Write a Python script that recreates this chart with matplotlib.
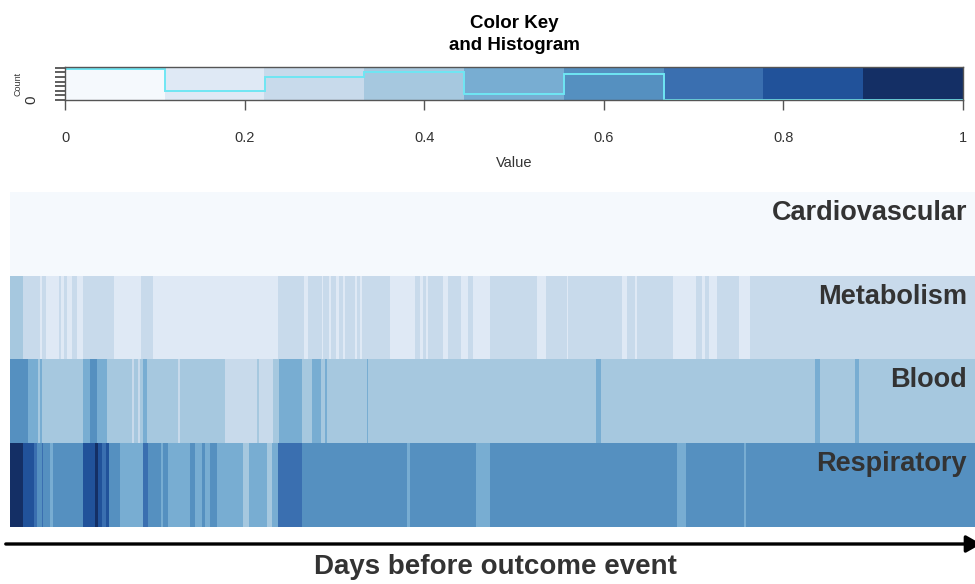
import numpy as np
import matplotlib
matplotlib.use("Agg")
import matplotlib.pyplot as plt
from matplotlib.colors import ListedColormap, Normalize
from matplotlib.patches import FancyArrowPatch

plt.rcParams["font.family"] = ["Liberation Sans", "DejaVu Sans"]

# colour bins of the key (9 classes, 0..1)
bin_colors = ["#F5F9FD", "#DFE9F5", "#C8DAEB", "#A6C8DF", "#78ADD2",
              "#5590C0", "#3A6FB0", "#21529A", "#142F65"]
key_ticks = [0, 0.2, 0.4, 0.6, 0.8, 1]
key_tick_labels = ["0", "0.2", "0.4", "0.6", "0.8", "1"]
hist_counts = [47, 13.5, 35, 42, 9, 39.5, 0.7, 0.7, 0.7]

categories = ["Cardiovascular", "Metabolism", "Blood", "Respiratory"]
n_days = 965

# run-length encoded rows: day where each run starts and its colour bin
cardio_starts = [0]
cardio_bins = [0]

metab_starts = [0, 13, 30, 32, 36, 49, 51, 54, 57, 62, 67, 73, 104, 131, 143, 268,
                294, 298, 312, 313, 319, 321, 326, 329, 333, 335, 345, 347, 350,
                352, 380, 405, 410, 413, 416, 418, 433, 438, 451, 458, 463, 480,
                527, 536, 557, 558, 612, 617, 625, 627, 663, 686, 692, 695, 699,
                707, 729, 740]
metab_bins = [3, 2, 1, 2, 1, 2, 1, 2, 1, 2, 1, 2, 1, 2, 1, 2, 1, 2, 1, 2, 1, 2,
              1, 2, 1, 2, 1, 2, 1, 2, 1, 2, 1, 2, 1, 2, 1, 2, 1, 2, 1, 2, 1, 2,
              1, 2, 1, 2, 1, 2, 1, 2, 1, 2, 1, 2, 1, 2]

blood_starts = [0, 18, 28, 30, 32, 73, 80, 87, 97, 122, 124, 128, 130, 133, 137,
                168, 170, 215, 247, 249, 263, 269, 292, 302, 311, 315, 317, 357,
                358, 586, 591, 805, 810, 845, 849]
blood_bins = [5, 4, 3, 4, 3, 4, 5, 4, 3, 2, 3, 2, 3, 4, 3, 2, 3, 2, 3, 2, 3, 4,
              3, 4, 3, 4, 3, 4, 3, 4, 3, 4, 3, 4, 3]

resp_starts = [0, 13, 24, 27, 32, 33, 40, 43, 73, 85, 88, 92, 96, 99, 110, 133,
               138, 151, 153, 158, 180, 185, 192, 195, 200, 207, 233, 239, 257,
               262, 268, 292, 397, 400, 466, 480, 667, 676, 734, 736]
resp_bins = [8, 7, 6, 5, 6, 5, 4, 5, 7, 8, 7, 6, 7, 5, 4, 6, 5, 4, 5, 4, 5, 4,
             5, 4, 5, 4, 3, 4, 3, 4, 6, 5, 4, 5, 4, 5, 4, 5, 4, 5]


def expand(starts, bins):
    lengths = np.diff(starts + [n_days])
    levels = np.repeat(bins, lengths)
    return (levels + 0.5) / len(bin_colors)


matrix = np.vstack([expand(cardio_starts, cardio_bins),
                    expand(metab_starts, metab_bins),
                    expand(blood_starts, blood_bins),
                    expand(resp_starts, resp_bins)])

cmap = ListedColormap(bin_colors)
norm = Normalize(0, 1)
W, H = 975, 584


def fx(x):
    return x / W


def fy(y):
    return 1 - y / H


fig = plt.figure(figsize=(9.75, 5.84), dpi=100)

# colour key + histogram
ax_key = fig.add_axes([fx(65), fy(100), fx(963) - fx(65), fy(67) - fy(100)])
key_vals = (np.arange(len(bin_colors)) + 0.5) / len(bin_colors)
edges = np.linspace(0, 1, len(bin_colors) + 1)
ax_key.imshow(key_vals[None, :], extent=[0, 1, 0, 50], aspect="auto",
              cmap=cmap, norm=norm, interpolation="nearest")
ax_key.stairs(hist_counts, edges, color="#6FE6F3", lw=1.4)
ax_key.set_xlim(0, 1)
ax_key.set_ylim(0, 50)
ax_key.set_xticks(key_ticks)
ax_key.set_xticklabels(key_tick_labels, fontsize=10.5, color="#333333")
ax_key.set_yticks(np.arange(0, 50, 7))
ax_key.set_yticklabels([""] * 8)
ax_key.tick_params(axis="x", length=7, width=1, color="#555555", pad=15)
ax_key.tick_params(axis="y", length=7, width=1.1, color="#333333")
for s in ax_key.spines.values():
    s.set_color("#555555")
    s.set_linewidth(1)
ax_key.set_xlabel("Value", fontsize=10.5, color="#333333", labelpad=8)
fig.text(fx(31), fy(100), "0", rotation=90, fontsize=11, color="#333333",
         ha="center", va="center")
fig.text(fx(18), fy(84), "Count", rotation=90, fontsize=6.5, color="#333333",
         ha="center", va="center")
fig.text(fx(514), fy(34.5), "Color Key\nand Histogram", fontsize=13.5,
         fontweight="bold", ha="center", va="center", linespacing=1.42)

# heatmap
ax = fig.add_axes([fx(10), fy(527), fx(975) - fx(10), fy(192) - fy(527)])
ax.imshow(matrix, aspect="auto", cmap=cmap, norm=norm,
          interpolation="nearest", extent=[0, n_days, len(categories), 0])
ax.set_axis_off()
for i, name in enumerate(categories):
    ax.text(n_days - 8, i + 0.25, name, ha="right", va="center",
            fontsize=19.5, fontweight="bold", color="#333333")

arrow = FancyArrowPatch((fx(3), fy(544)), (fx(984), fy(544)),
                        transform=fig.transFigure,
                        arrowstyle="-|>,head_length=6,head_width=3.4",
                        color="black", lw=2.4, mutation_scale=1.5)
fig.add_artist(arrow)
fig.text(fx(495), fy(567), "Days before outcome event", fontsize=20,
         fontweight="bold", color="#333333", ha="center", va="center")

fig.savefig("out.png", dpi=100)
